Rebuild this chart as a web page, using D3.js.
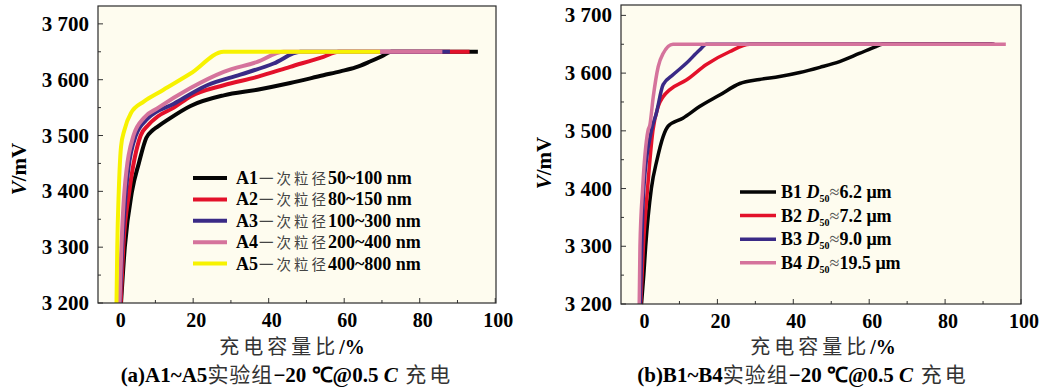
<!DOCTYPE html>
<html>
<head>
<meta charset="utf-8">
<script src="https://cdn.jsdelivr.net/npm/d3@7"></script>
<style>
  body { margin: 0; background: #fff; }
  svg { display: block; }
  .serif { font-family: "Liberation Serif", "Times New Roman", serif; font-weight: bold; }
  .cjk { font-family: "Noto Sans CJK SC", sans-serif; font-weight: normal; }
</style>
</head>
<body>
<svg width="1048" height="389"></svg>
<script>
// ---- data: [charge %, voltage mV] ----
const a1 = [[0.9,3200],[1.9,3300],[3.8,3400],[5.6,3450],[7.6,3496],[9.2,3509],[10.6,3516],[13.2,3528],[19.3,3553],[28.1,3572],[37,3582],[45.7,3594],[54.5,3608],[59,3615],[63,3622],[67,3633],[70,3642],[72.5,3650],[95.4,3650]];
const a2 = [[0.8,3200],[1.5,3300],[3.1,3400],[6.1,3500],[8.0,3518],[10.6,3534],[14.9,3550],[19.3,3570],[28.1,3590],[37,3605],[45.7,3623],[54.5,3641],[58.5,3650],[93.2,3650]];
const a3 = [[0.6,3200],[1.2,3300],[2.2,3400],[4.8,3500],[7.9,3530],[14.9,3557],[23.7,3590],[32.5,3609],[41.3,3629],[48.4,3650],[88,3650]];
const a4 = [[0.5,3200],[1.0,3300],[1.8,3400],[4.2,3500],[7.0,3532],[10.6,3549],[19.3,3585],[28.1,3614],[37,3632],[44,3650],[86,3650]];
const a5 = [[-0.3,3200],[-0.1,3300],[0.3,3400],[0.9,3480],[1.8,3510],[3.5,3540],[7.0,3561],[11.4,3579],[19.3,3611],[28.1,3650],[69.5,3650]];

const b1 = [[0,3200],[0.6,3250],[1.1,3300],[2.6,3400],[4.1,3450],[5.7,3490],[7.0,3508],[10.9,3522],[15.3,3542],[20.6,3562],[25.9,3582],[31.1,3589],[36.4,3594],[41.7,3601],[47,3610],[52.2,3620],[57.4,3634],[61.8,3646],[63.5,3650],[92.5,3650]];
const b2 = [[-0.2,3200],[0.5,3300],[1.6,3400],[3.0,3500],[4.4,3542],[5.7,3559],[7.4,3571],[11.8,3588],[17.1,3615],[23.2,3637],[28.5,3650],[93,3650]];
const b3 = [[-0.3,3200],[0.6,3400],[2.6,3500],[3.9,3530],[5.7,3580],[8.3,3597],[11.8,3617],[15.3,3640],[17.1,3650],[93,3650]];
const b4 = [[-0.6,3200],[-0.4,3300],[0.3,3400],[1.7,3500],[2.2,3510],[3.1,3559],[4.4,3611],[5.7,3634],[8.3,3650],[96,3650]];

const xTicks = [0, 20, 40, 60, 80, 100];
const yTicks = [3200, 3300, 3400, 3500, 3600, 3700];

const seriesA = [
  { data: a1, color: "#050505", id: "A1", size: "50~100 nm" },
  { data: a2, color: "#e3112a", id: "A2", size: "80~150 nm" },
  { data: a3, color: "#3a2a86", id: "A3", size: "100~300 nm" },
  { data: a4, color: "#d5739c", id: "A4", size: "200~400 nm" },
  { data: a5, color: "#f7f200", id: "A5", size: "400~800 nm" }
];
const seriesB = [
  { data: b1, color: "#050505", id: "B1", d50: "6.2" },
  { data: b2, color: "#e3112a", id: "B2", d50: "7.2" },
  { data: b3, color: "#3a2a86", id: "B3", d50: "9.0" },
  { data: b4, color: "#d5739c", id: "B4", d50: "19.5" }
];

const svg = d3.select("svg");
const fmtV = v => String(v).replace(/^(\d)(\d{3})$/, "$1 $2");

function drawPanel(p) {
  const x = d3.scaleLinear().domain(p.xDom).range([p.left, p.right]);
  const y = d3.scaleLinear().domain(p.yDom).range([p.bottom, p.top]);
  const g = svg.append("g");

  g.append("rect")
    .attr("x", p.left).attr("y", p.top)
    .attr("width", p.right - p.left).attr("height", p.bottom - p.top)
    .attr("fill", "#fefcef");

  // inward ticks, majors and minors
  const tickG = g.append("g");
  d3.range(0, 101, 10).forEach(v => {
    const len = v % 20 === 0 ? 5 : 3;
    tickG.append("line").attr("x1", x(v)).attr("x2", x(v))
      .attr("y1", p.bottom).attr("y2", p.bottom - len);
  });
  d3.range(3200, p.yDom[1], 50).forEach(v => {
    const len = v % 100 === 0 ? 5 : 3;
    tickG.append("line").attr("x1", p.left).attr("x2", p.left + len)
      .attr("y1", y(v)).attr("y2", y(v));
  });
  tickG.selectAll("line").attr("stroke", "#333").attr("stroke-width", 1);

  // curves
  const line = d3.line().x(d => x(d[0])).y(d => y(d[1])).curve(d3.curveMonotoneX);
  g.selectAll("path.curve")
    .data(p.series)
    .enter()
    .append("path")
    .attr("class", "curve")
    .attr("fill", "none")
    .attr("stroke", d => d.color)
    .attr("stroke-width", p.lw)
    .attr("stroke-linejoin", "round")
    .attr("d", d => line(d.data));

  g.append("rect")
    .attr("x", p.left).attr("y", p.top)
    .attr("width", p.right - p.left).attr("height", p.bottom - p.top)
    .attr("fill", "none").attr("stroke", "#2a2a2a").attr("stroke-width", 1.2);

  // tick labels
  g.selectAll("text.xt")
    .data(xTicks)
    .enter()
    .append("text")
    .attr("class", "serif")
    .attr("x", d => x(d) + 3)
    .attr("y", p.bottom + 24)
    .attr("text-anchor", "middle")
    .attr("font-size", 20)
    .text(d => d);

  g.selectAll("text.yt")
    .data(yTicks)
    .enter()
    .append("text")
    .attr("class", "serif")
    .attr("x", p.left - 9)
    .attr("y", d => y(d) + 7)
    .attr("text-anchor", "end")
    .attr("font-size", 21)
    .text(fmtV);

  // y title
  const yt = g.append("text")
    .attr("class", "serif")
    .attr("font-size", 21)
    .attr("text-anchor", "middle")
    .attr("transform", `translate(${p.yTitleX},${p.yTitleY}) rotate(-90)`);
  yt.append("tspan").attr("font-style", "italic").text("V");
  yt.append("tspan").text("/mV");

  // x title
  const xt = g.append("text")
    .attr("x", p.xTitleX).attr("y", 354)
    .attr("text-anchor", "middle")
    .attr("font-size", 20);
  xt.append("tspan").attr("class", "cjk").attr("fill", "#333")
    .attr("letter-spacing", 4).text("充电容量比");
  xt.append("tspan").attr("class", "serif").text("/%");

  // caption
  const cap = g.append("text")
    .attr("x", p.capX).attr("y", 382)
    .attr("text-anchor", "middle")
    .attr("font-size", 21);
  cap.append("tspan").attr("class", "serif").text(p.capLead);
  cap.append("tspan").attr("class", "cjk").attr("fill", "#333")
    .attr("letter-spacing", 1).text("实验组");
  cap.append("tspan").attr("class", "serif").text("−20 ℃@0.5 ");
  cap.append("tspan").attr("class", "serif").attr("font-style", "italic").text("C");
  cap.append("tspan").attr("class", "cjk").attr("fill", "#333")
    .attr("letter-spacing", 3).text(" 充电");

  return g;
}

const gA = drawPanel({
  left: 98, right: 496, top: 6, bottom: 303,
  xDom: [-5.2, 100.2], yDom: [3200, 3732],
  series: seriesA, lw: 4,
  yTitleX: 26, yTitleY: 169, xTitleX: 292, capX: 287,
  capLead: "(a)A1~A5"
});

const gB = drawPanel({
  left: 621, right: 1021, top: 5, bottom: 304,
  xDom: [-5.4, 100], yDom: [3200, 3718],
  series: seriesB, lw: 3.5,
  yTitleX: 551, yTitleY: 163, xTitleX: 823, capX: 803,
  capLead: "(b)B1~B4"
});

// legend A
const legA = gA.selectAll("g.leg")
  .data(seriesA)
  .enter()
  .append("g")
  .attr("transform", (d, i) => `translate(193,${178 + i * 21.4})`);
legA.append("line")
  .attr("x1", 0).attr("x2", 34)
  .attr("stroke", d => d.color).attr("stroke-width", 4);
const ltA = legA.append("text").attr("x", 43).attr("y", 6).attr("font-size", 18);
ltA.append("tspan").attr("class", "serif").text(d => d.id);
ltA.append("tspan").attr("class", "cjk").attr("fill", "#444")
  .attr("font-size", 14.5).attr("letter-spacing", 3).attr("dx", 1).text("一次粒径");
ltA.append("tspan").attr("class", "serif").attr("dx", -1).text(d => d.size);

// legend B
const legB = gB.selectAll("g.leg")
  .data(seriesB)
  .enter()
  .append("g")
  .attr("transform", (d, i) => `translate(740,${192 + i * 23.6})`);
legB.append("line")
  .attr("x1", 0).attr("x2", 36)
  .attr("stroke", d => d.color).attr("stroke-width", 3.5);
const ltB = legB.append("text").attr("x", 41).attr("y", 6).attr("font-size", 18).attr("class", "serif");
ltB.append("tspan").text(d => d.id + " ");
ltB.append("tspan").attr("font-style", "italic").text("D");
ltB.append("tspan").attr("font-size", 10).attr("dy", 4).text("50");
ltB.append("tspan").attr("dy", -4).attr("fill", "#555").attr("font-weight", "normal").text("≈");
ltB.append("tspan").text(d => d.d50 + " μm");
</script>
</body>
</html>
